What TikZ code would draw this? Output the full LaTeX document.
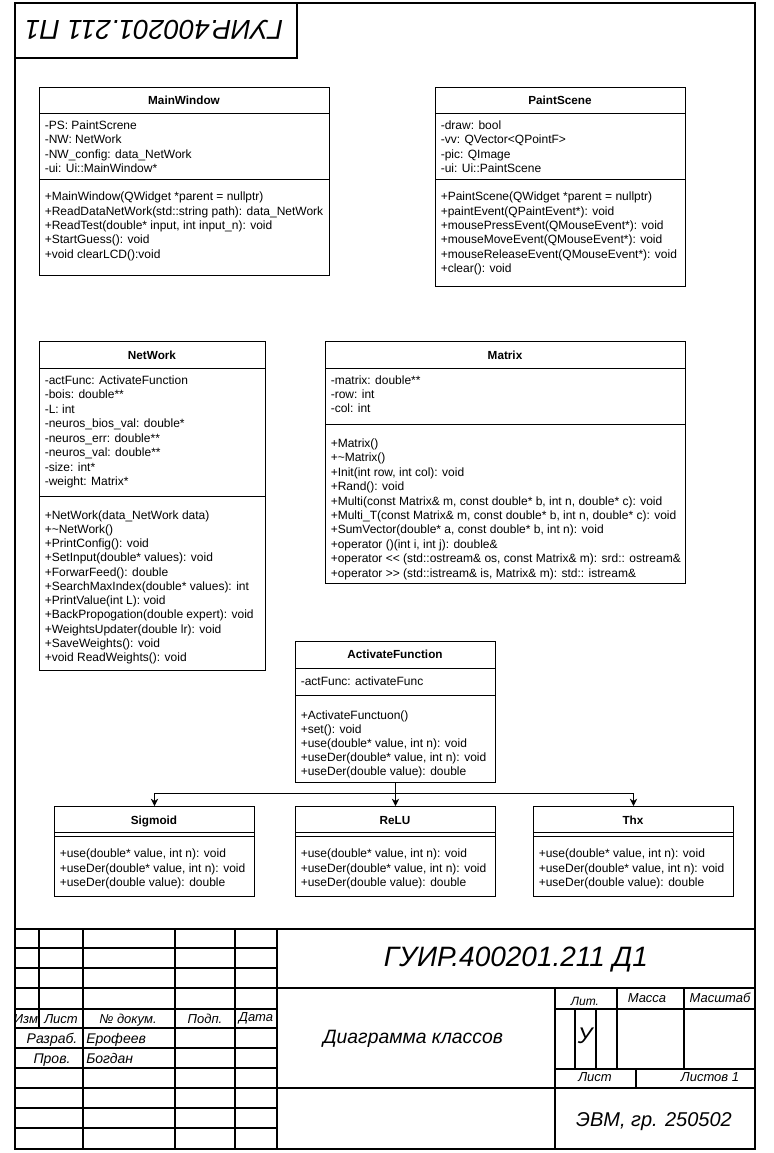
\documentclass[tikz,border=0pt]{standalone}
\usepackage{fontspec}
\setmainfont{Liberation Sans}
\usetikzlibrary{arrows.meta}
\newdimen\pxu \pxu=0.75pt

\begin{document}
\begin{tikzpicture}[x=0.75pt,y=-0.75pt,
    clsbox/.style 2 args={draw,line width=0.75pt,anchor=north west,inner sep=0pt,
      minimum width=#1\pxu,minimum height=#2\pxu},
    clstitle/.style={anchor=base,inner sep=0pt,font=\fontsize{8.8pt}{10pt}\selectfont\bfseries},
    mem/.style={anchor=base west,inner sep=0pt,font=\fontsize{9pt}{10pt}\selectfont},
    divline/.style={line width=0.75pt},
    arj/.style={line width=0.75pt,-{Stealth[length=5.5pt,width=5.5pt]}},
    frm/.style={line width=2pt},
    fine/.style={line width=0.9pt},
    lbl/.style={anchor=base,inner sep=0pt,font=\fontsize{9.75pt}{11pt}\selectfont\itshape},
    big/.style={anchor=base,inner sep=0pt,font=\fontsize{14.5pt}{17pt}\selectfont\itshape}]
  \useasboundingbox (0,0) rectangle (774,1153);

  % MainWindow
  \node[clsbox={290}{188}] (mw) at (39,87) {};
  \node[clstitle] (mw-t) at (184,104) {MainWindow};
  \draw[divline] (mw.west |- 0,113) -- (mw.east |- 0,113);
  \draw[divline] (mw.west |- 0,179) -- (mw.east |- 0,179);
  \foreach \t [count=\i from 0] in {-PS: PaintScrene,-NW: NetWork,
      -NW\_config: data\_NetWork,-ui: Ui::MainWindow*}
    \node[mem] (mw-a\i) at (44.5,129.3+14.4*\i) {\t};
  \foreach \t [count=\i from 0] in {+MainWindow(QWidget *parent = nullptr),
      +ReadDataNetWork(std::string path): data\_NetWork,
      {+ReadTest(double* input, int input\_n): void},+StartGuess(): void,
      +void clearLCD():void}
    \node[mem] (mw-m\i) at (44.5,200.7+14.4*\i) {\t};

  % PaintScene
  \node[clsbox={250}{199}] (ps) at (435,87) {};
  \node[clstitle] (ps-t) at (560,104) {PaintScene};
  \draw[divline] (ps.west |- 0,113) -- (ps.east |- 0,113);
  \draw[divline] (ps.west |- 0,179) -- (ps.east |- 0,179);
  \foreach \t [count=\i from 0] in {-draw: bool,-vv: QVector<QPointF>,
      -pic: QImage,-ui: Ui::PaintScene}
    \node[mem] (ps-a\i) at (440.5,129.3+14.4*\i) {\t};
  \foreach \t [count=\i from 0] in {+PaintScene(QWidget *parent = nullptr),
      +paintEvent(QPaintEvent*): void,+mousePressEvent(QMouseEvent*): void,
      +mouseMoveEvent(QMouseEvent*): void,+mouseReleaseEvent(QMouseEvent*): void,
      +clear(): void}
    \node[mem] (ps-m\i) at (440.5,200.7+14.4*\i) {\t};

  % NetWork
  \node[clsbox={226}{329}] (nw) at (39,341) {};
  \node[clstitle] (nw-t) at (152,359) {NetWork};
  \draw[divline] (nw.west |- 0,368) -- (nw.east |- 0,368);
  \draw[divline] (nw.west |- 0,496) -- (nw.east |- 0,496);
  \foreach \t [count=\i from 0] in {-actFunc: ActivateFunction,-bois: double**,
      -L: int,-neuros\_bios\_val: double*,-neuros\_err: double**,
      -neuros\_val: double**,-size: int*,-weight: Matrix*}
    \node[mem] (nw-a\i) at (44.5,384+14.5*\i) {\t};
  \foreach \t [count=\i from 0] in {+NetWork(data\_NetWork data),
      +\textasciitilde NetWork(),+PrintConfig(): void,
      +SetInput(double* values): void,+ForwarFeed(): double,
      +SearchMaxIndex(double* values): int,+PrintValue(int L): void,
      +BackPropogation(double expert): void,+WeightsUpdater(double lr): void,
      +SaveWeights(): void,+void ReadWeights(): void}
    \node[mem] (nw-m\i) at (44.5,519+14.27*\i) {\t};

  % Matrix
  \node[clsbox={360}{242}] (mx) at (325,341) {};
  \node[clstitle] (mx-t) at (505,359) {Matrix};
  \draw[divline] (mx.west |- 0,368) -- (mx.east |- 0,368);
  \draw[divline] (mx.west |- 0,424) -- (mx.east |- 0,424);
  \foreach \t [count=\i from 0] in {-matrix: double**,-row: int,-col: int}
    \node[mem] (mx-a\i) at (330.5,384+14.4*\i) {\t};
  \foreach \t [count=\i from 0] in {+Matrix(),+\textasciitilde Matrix(),
      {+Init(int row, int col): void},+Rand(): void,
      {+Multi(const Matrix\& m, const double* b, int n, double* c): void},
      {+Multi\_T(const Matrix\& m, const double* b, int n, double* c): void},
      {+SumVector(double* a, const double* b, int n): void},
      {+operator ()(int i, int j): double\&},
      {+operator <{}< (std::ostream\& os, const Matrix\& m): srd:: ostream\&},
      {+operator >{}> (std::istream\& is, Matrix\& m): std:: istream\&}}
    \node[mem] (mx-m\i) at (330.5,447.3+14.44*\i) {\t};

  % ActivateFunction
  \node[clsbox={200}{141}] (af) at (295,641) {};
  \node[clstitle] (af-t) at (395,658.3) {ActivateFunction};
  \draw[divline] (af.west |- 0,668) -- (af.east |- 0,668);
  \draw[divline] (af.west |- 0,695) -- (af.east |- 0,695);
  \node[mem] (af-a0) at (300.5,685) {-actFunc: activateFunc};
  \foreach \t [count=\i from 0] in {+ActivateFunctuon(),+set(): void,
      {+use(double* value, int n): void},{+useDer(double* value, int n): void},
      +useDer(double value): double}
    \node[mem] (af-m\i) at (300.5,719+14.2*\i) {\t};

  % Sigmoid, ReLU, Thx
  \foreach \nm/\lab/\x in {sig/Sigmoid/54,relu/ReLU/295,thx/Thx/533}{
    \node[clsbox={200}{90}] (\nm) at (\x,806) {};
    \node[clstitle] (\nm-t) at (\x+100,824) {\lab};
    \draw[divline] (\nm.west |- 0,832) -- (\nm.east |- 0,832);
    \draw[divline] (\nm.west |- 0,836) -- (\nm.east |- 0,836);
    \foreach \t [count=\i from 0] in {{+use(double* value, int n): void},
        {+useDer(double* value, int n): void},+useDer(double value): double}
      \node[mem] (\nm-m\i) at (\x+5.5,857.3+14.7*\i) {\t};
  }
  \draw[arj] (af.south) -- ++(0,10) -| (sig.north);
  \draw[arj] (af.south) -- (relu.north);
  \draw[arj] (af.south) -- ++(0,10) -| (thx.north);

  % frame and stamp
  \draw[frm] (15,3) rectangle (755,1149);
  \draw[frm] (15,3) rectangle (297,58);
  \node[inner sep=0pt,rotate=180,font=\fontsize{20.5pt}{24pt}\selectfont\itshape]
    (stamp) at (154,30) {ГУИР.400201.211 П1};

  % title block
  \draw[frm] (15,929) -- (755,929);
  \foreach \x in {83,175,235,277} \draw[frm] (\x,929) -- (\x,1149);
  \draw[frm] (39,929) -- (39,1028);
  \foreach \y in {948,968,988,1048,1068,1088,1108,1128}
    \draw[fine] (15,\y) -- (277,\y);
  \draw[frm] (15,1009) -- (277,1009) (15,1028) -- (277,1028);
  \draw[frm] (277,988) -- (755,988) (277,1088) -- (755,1088);
  \draw[frm] (555,988) -- (555,1149);
  \draw[frm] (555,1009) -- (755,1009) (555,1069) -- (755,1069);
  \draw[frm] (617,988) -- (617,1069) (684,988) -- (684,1069);
  \draw[fine] (575,1009) -- (575,1069) (596,1009) -- (596,1069);
  \draw[frm] (636,1069) -- (636,1088);

  \node[lbl] (izm) at (26,1023.7) {Изм};
  \node[lbl] (lst) at (61,1023.7) {Лист};
  \node[lbl] (ndoc) at (128,1023.7) {№ докум.};
  \node[lbl] (podp) at (205,1023.7) {Подп.};
  \node[lbl] (dat) at (256,1021.7) {Дата};
  \node[lbl,font=\fontsize{10.5pt}{12pt}\selectfont\itshape] (razr) at (52,1043) {Разраб.};
  \node[lbl,font=\fontsize{10.5pt}{12pt}\selectfont\itshape] (prov) at (52,1063) {Пров.};
  \node[lbl,anchor=base west,font=\fontsize{10.5pt}{12pt}\selectfont\itshape] (erof) at (86,1043) {Ерофеев};
  \node[lbl,anchor=base west,font=\fontsize{10.5pt}{12pt}\selectfont\itshape] (bogd) at (86,1063) {Богдан};

  \node[lbl,font=\fontsize{21pt}{24pt}\selectfont\itshape] (code) at (516,966.5) {ГУИР.400201.211 Д1};
  \node[big] (name) at (413,1043) {Диаграмма классов};
  \node[big,font=\fontsize{15pt}{18pt}\selectfont\itshape] (grp) at (654,1126.7) {ЭВМ, гр. 250502};
  \node[lbl,font=\fontsize{9pt}{11pt}\selectfont\itshape] (lit) at (585,1005) {Лит.};
  \node[lbl] (mass) at (647,1002.7) {Масса};
  \node[lbl] (scale) at (720,1002.7) {Масштаб};
  \node[lbl,font=\fontsize{17pt}{20pt}\selectfont\itshape] (letU) at (585,1043) {У};
  \node[lbl] (sheet) at (595,1081) {Лист};
  \node[lbl] (sheets) at (710,1081) {Листов 1};
\end{tikzpicture}
\end{document}
